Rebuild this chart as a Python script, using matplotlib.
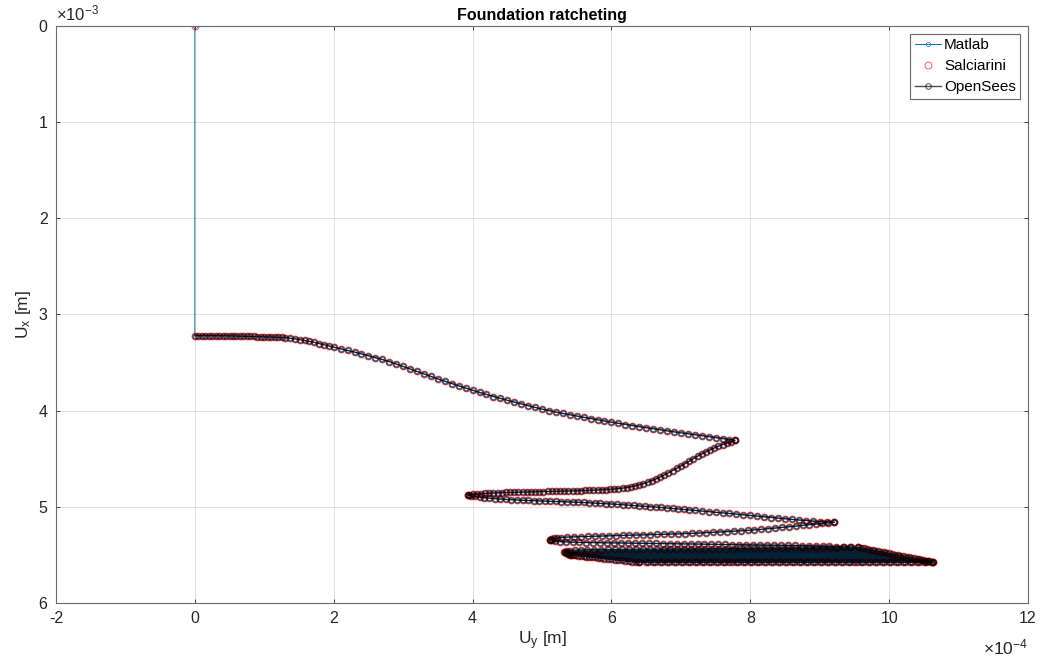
import numpy as np
import matplotlib
matplotlib.use("Agg")
import matplotlib.pyplot as plt
from matplotlib.ticker import MultipleLocator, FuncFormatter

plt.rcParams["font.family"] = ["Liberation Sans", "DejaVu Sans"]
plt.rcParams["axes.unicode_minus"] = False
plt.rcParams["mathtext.fontset"] = "custom"
plt.rcParams["mathtext.rm"] = "Liberation Sans"
plt.rcParams["mathtext.it"] = "Liberation Sans:italic"

UX_SCALE = 1e-4  # horizontal displacements below are in 1e-4 m
UY_SCALE = 1e-3  # vertical displacements below are in 1e-3 m

# initial state (before self weight)
ux_start = [0.0]
uy_start = [0.0]

# first push after gravity loading
ux_push1 = [0.00, 0.05, 0.10, 0.15, 0.20, 0.25, 0.30, 0.35, 0.40, 0.45, 0.50, 0.55, 0.60,
            0.65, 0.70, 0.75, 0.80, 0.85, 0.90, 0.95, 1.00, 1.05, 1.10, 1.15, 1.20, 1.25,
            1.30, 1.37, 1.44, 1.51, 1.58, 1.65, 1.72, 1.79, 1.86, 1.93, 2.00, 2.10, 2.20,
            2.30, 2.40, 2.50, 2.60, 2.70, 2.80, 2.90, 3.00, 3.10, 3.20, 3.30, 3.40, 3.50,
            3.60, 3.70, 3.80, 3.90, 4.00, 4.10, 4.20, 4.30, 4.40, 4.50, 4.60, 4.70, 4.80,
            4.90, 5.00, 5.10, 5.20, 5.30, 5.40, 5.50, 5.60, 5.70, 5.80, 5.90, 6.00, 6.10,
            6.20, 6.30, 6.40, 6.50, 6.60, 6.70, 6.80, 6.90, 7.00, 7.10, 7.20, 7.30, 7.40,
            7.50, 7.60, 7.70, 7.78]
uy_push1 = [3.220, 3.220, 3.220, 3.220, 3.220, 3.221, 3.221, 3.221, 3.222, 3.222, 3.222,
            3.223, 3.224, 3.224, 3.225, 3.226, 3.227, 3.228, 3.229, 3.230, 3.231, 3.233,
            3.234, 3.236, 3.238, 3.239, 3.241, 3.247, 3.253, 3.261, 3.270, 3.280, 3.290,
            3.302, 3.315, 3.327, 3.340, 3.357, 3.374, 3.391, 3.410, 3.428, 3.448, 3.468,
            3.490, 3.515, 3.540, 3.566, 3.592, 3.618, 3.644, 3.670, 3.694, 3.718, 3.742,
            3.765, 3.788, 3.810, 3.832, 3.853, 3.873, 3.892, 3.911, 3.930, 3.948, 3.966,
            3.984, 4.000, 4.015, 4.029, 4.043, 4.056, 4.069, 4.082, 4.095, 4.107, 4.120,
            4.132, 4.144, 4.155, 4.166, 4.177, 4.188, 4.199, 4.210, 4.220, 4.230, 4.240,
            4.250, 4.260, 4.270, 4.280, 4.290, 4.300, 4.308]

# first reversal
ux_back1 = [7.78, 7.72, 7.66, 7.60, 7.54, 7.48, 7.42, 7.36, 7.30, 7.24, 7.18, 7.12, 7.06,
            7.00, 6.94, 6.88, 6.82, 6.76, 6.70, 6.64, 6.58, 6.52, 6.46, 6.40, 6.34, 6.28,
            6.22, 6.16, 6.10, 6.04, 5.98, 5.92, 5.86, 5.80, 5.74, 5.68, 5.62, 5.56, 5.50,
            5.44, 5.38, 5.32, 5.26, 5.20, 5.14, 5.08, 5.02, 4.96, 4.90, 4.84, 4.78, 4.72,
            4.66, 4.60, 4.54, 4.48, 4.42, 4.36, 4.30, 4.24, 4.18, 4.12, 4.06, 4.00, 3.95,
            3.93]
uy_back1 = [4.308, 4.322, 4.337, 4.353, 4.370, 4.388, 4.408, 4.428, 4.450, 4.474, 4.500,
            4.526, 4.551, 4.576, 4.600, 4.624, 4.647, 4.669, 4.690, 4.710, 4.728, 4.745,
            4.760, 4.772, 4.783, 4.792, 4.800, 4.806, 4.811, 4.815, 4.818, 4.821, 4.823,
            4.825, 4.827, 4.829, 4.830, 4.832, 4.833, 4.834, 4.835, 4.836, 4.837, 4.838,
            4.839, 4.840, 4.841, 4.842, 4.843, 4.844, 4.845, 4.846, 4.847, 4.848, 4.849,
            4.851, 4.852, 4.854, 4.856, 4.858, 4.861, 4.864, 4.867, 4.870, 4.873, 4.876]

# second push
ux_push2 = [3.93, 3.98, 4.04, 4.10, 4.17, 4.24, 4.32, 4.40, 4.48, 4.56, 4.64, 4.72, 4.80,
            4.88, 4.96, 5.04, 5.12, 5.20, 5.28, 5.36, 5.44, 5.52, 5.60, 5.68, 5.76, 5.84,
            5.92, 6.00, 6.08, 6.16, 6.24, 6.32, 6.40, 6.48, 6.56, 6.64, 6.72, 6.80, 6.88,
            6.96, 7.04, 7.12, 7.20, 7.30, 7.40, 7.50, 7.60, 7.70, 7.80, 7.90, 8.00, 8.10,
            8.20, 8.30, 8.40, 8.50, 8.60, 8.70, 8.80, 8.90, 9.00, 9.10, 9.21]
uy_push2 = [4.876, 4.884, 4.892, 4.899, 4.905, 4.910, 4.915, 4.919, 4.923, 4.926, 4.929,
            4.932, 4.934, 4.936, 4.938, 4.940, 4.942, 4.944, 4.946, 4.948, 4.950, 4.952,
            4.955, 4.958, 4.961, 4.964, 4.967, 4.970, 4.974, 4.978, 4.982, 4.986, 4.990,
            4.994, 4.998, 5.002, 5.007, 5.012, 5.017, 5.022, 5.027, 5.032, 5.037, 5.043,
            5.049, 5.055, 5.062, 5.069, 5.076, 5.083, 5.090, 5.097, 5.104, 5.111, 5.118,
            5.125, 5.131, 5.137, 5.143, 5.148, 5.153, 5.157, 5.160]

# second reversal
ux_back2 = [9.21, 9.12, 9.03, 8.94, 8.85, 8.76, 8.66, 8.56, 8.46, 8.36, 8.26, 8.16, 8.06,
            7.96, 7.86, 7.76, 7.66, 7.56, 7.46, 7.36, 7.26, 7.16, 7.06, 6.96, 6.86, 6.76,
            6.66, 6.56, 6.46, 6.36, 6.26, 6.16, 6.06, 5.96, 5.86, 5.76, 5.66, 5.56, 5.46,
            5.36, 5.28, 5.22, 5.17, 5.13, 5.11]
uy_back2 = [5.160, 5.166, 5.172, 5.179, 5.186, 5.193, 5.200, 5.207, 5.214, 5.221, 5.228,
            5.234, 5.240, 5.245, 5.250, 5.254, 5.258, 5.262, 5.266, 5.270, 5.273, 5.276,
            5.279, 5.281, 5.283, 5.285, 5.287, 5.289, 5.291, 5.293, 5.295, 5.297, 5.299,
            5.301, 5.303, 5.305, 5.307, 5.309, 5.312, 5.315, 5.319, 5.323, 5.328, 5.334,
            5.340]

# third push
ux_push3 = [5.11, 5.14, 5.19, 5.26, 5.34, 5.44, 5.54, 5.64, 5.74, 5.84, 5.94, 6.04, 6.14,
            6.24, 6.34, 6.44, 6.54, 6.64, 6.74, 6.84, 6.94, 7.04, 7.14, 7.24, 7.34, 7.44,
            7.54, 7.64, 7.74, 7.84, 7.94, 8.04, 8.14, 8.24, 8.34, 8.44, 8.54, 8.64, 8.74,
            8.84, 8.94, 9.04, 9.14, 9.24, 9.34, 9.44, 9.55]
uy_push3 = [5.340, 5.348, 5.355, 5.361, 5.365, 5.368, 5.370, 5.371, 5.372, 5.373, 5.374,
            5.375, 5.376, 5.377, 5.378, 5.379, 5.380, 5.381, 5.382, 5.383, 5.384, 5.385,
            5.386, 5.387, 5.388, 5.389, 5.390, 5.391, 5.392, 5.393, 5.394, 5.395, 5.396,
            5.397, 5.398, 5.399, 5.400, 5.402, 5.404, 5.406, 5.408, 5.410, 5.412, 5.414,
            5.416, 5.418, 5.420]

# third reversal
ux_back3 = [9.55, 9.45, 9.35, 9.25, 9.15, 9.05, 8.95, 8.85, 8.75, 8.65, 8.55, 8.45, 8.35,
            8.25, 8.15, 8.05, 7.95, 7.85, 7.75, 7.65, 7.55, 7.45, 7.35, 7.25, 7.15, 7.05,
            6.95, 6.85, 6.75, 6.65, 6.55, 6.45, 6.35, 6.25, 6.15, 6.05, 5.95, 5.85, 5.75,
            5.65, 5.56, 5.48, 5.41, 5.36, 5.32]
uy_back3 = [5.420, 5.421, 5.422, 5.423, 5.424, 5.425, 5.426, 5.427, 5.428, 5.428, 5.429,
            5.430, 5.430, 5.431, 5.432, 5.432, 5.433, 5.433, 5.434, 5.434, 5.435, 5.435,
            5.436, 5.436, 5.437, 5.437, 5.438, 5.438, 5.439, 5.439, 5.440, 5.440, 5.441,
            5.441, 5.442, 5.442, 5.443, 5.444, 5.445, 5.446, 5.448, 5.451, 5.455, 5.459,
            5.465]

# later cycles: reversal points (right tip, then left tip, per cycle)
ux_tip_right = [9.60, 9.64, 9.68, 9.72, 9.76, 9.80, 9.84, 9.88, 9.92, 9.96, 10.00, 10.04,
                10.08, 10.12, 10.16, 10.20, 10.24, 10.28, 10.32, 10.36, 10.40, 10.43,
                10.46, 10.49, 10.52, 10.54, 10.56, 10.58, 10.60, 10.61]
uy_tip_right = [5.427, 5.433, 5.439, 5.444, 5.450, 5.456, 5.462, 5.467, 5.473, 5.479,
                5.485, 5.490, 5.496, 5.502, 5.508, 5.513, 5.519, 5.525, 5.530, 5.536,
                5.542, 5.546, 5.551, 5.555, 5.559, 5.562, 5.565, 5.568, 5.571, 5.572]
ux_tip_left = [5.33, 5.34, 5.35, 5.36, 5.37, 5.38, 5.39, 5.40, 5.42, 5.45, 5.48, 5.52,
               5.56, 5.60, 5.64, 5.68, 5.72, 5.76, 5.80, 5.85, 5.90, 5.95, 6.00, 6.05,
               6.10, 6.15, 6.20, 6.25, 6.30, 6.35]
uy_tip_left = [5.469, 5.473, 5.478, 5.482, 5.486, 5.490, 5.495, 5.499, 5.501, 5.503,
               5.505, 5.508, 5.511, 5.514, 5.517, 5.520, 5.523, 5.526, 5.530, 5.534,
               5.538, 5.542, 5.546, 5.550, 5.554, 5.558, 5.562, 5.566, 5.570, 5.574]

# last cycle
ux_back_last = [10.63, 10.53, 10.43, 10.33, 10.23, 10.13, 10.03, 9.93, 9.83, 9.73, 9.63,
                9.53, 9.43, 9.33, 9.23, 9.13, 9.03, 8.93, 8.83, 8.73, 8.63, 8.53, 8.43,
                8.33, 8.23, 8.13, 8.03, 7.93, 7.83, 7.73, 7.63, 7.53, 7.43, 7.33, 7.23,
                7.13, 7.03, 6.93, 6.83, 6.73, 6.63, 6.52, 6.40]
uy_back_last = [5.575, 5.575, 5.575, 5.575, 5.575, 5.575, 5.575, 5.575, 5.575, 5.575,
                5.575, 5.576, 5.576, 5.576, 5.576, 5.576, 5.576, 5.576, 5.576, 5.576,
                5.576, 5.576, 5.576, 5.576, 5.576, 5.576, 5.576, 5.576, 5.576, 5.576,
                5.577, 5.577, 5.577, 5.577, 5.577, 5.577, 5.577, 5.577, 5.577, 5.577,
                5.577, 5.577, 5.577]
ux_push_last = [6.40, 6.50, 6.60, 6.70, 6.80, 6.90, 7.00, 7.10, 7.20, 7.30, 7.40, 7.50,
                7.60, 7.70, 7.80, 7.90, 8.00, 8.10, 8.20, 8.30, 8.40, 8.50, 8.60, 8.70,
                8.80, 8.90, 9.00, 9.10, 9.20, 9.30, 9.40, 9.50, 9.60, 9.70, 9.80, 9.90,
                10.00, 10.10, 10.20, 10.30, 10.40, 10.50, 10.63]
uy_push_last = [5.577, 5.578, 5.578, 5.578, 5.578, 5.578, 5.578, 5.578, 5.578, 5.578,
                5.578, 5.578, 5.578, 5.578, 5.578, 5.578, 5.578, 5.578, 5.578, 5.578,
                5.578, 5.578, 5.578, 5.578, 5.578, 5.578, 5.578, 5.578, 5.578, 5.578,
                5.578, 5.578, 5.578, 5.578, 5.578, 5.578, 5.578, 5.578, 5.578, 5.578,
                5.578, 5.578, 5.578]


def build_path():
    """Chain the loading branches into one displacement path (in metres)."""
    cyc_x = np.column_stack([ux_tip_right, ux_tip_left]).ravel()
    cyc_y = np.column_stack([uy_tip_right, uy_tip_left]).ravel()
    ux = np.concatenate([ux_push1, ux_back1, ux_push2, ux_back2, ux_push3, ux_back3,
                         cyc_x, ux_back_last, ux_push_last])
    uy = np.concatenate([uy_push1, uy_back1, uy_push2, uy_back2, uy_push3, uy_back3,
                         cyc_y, uy_back_last, uy_push_last])
    return ux * UX_SCALE, uy * UY_SCALE


ux_os, uy_os = build_path()
ux_ml = np.concatenate([np.array(ux_start) * UX_SCALE, ux_os])
uy_ml = np.concatenate([np.array(uy_start) * UY_SCALE, uy_os])

fig = plt.figure(figsize=(10.42, 6.66), dpi=100)
ax = fig.add_axes([0.0537, 0.0946, 0.9329, 0.8664])

ax.plot(ux_ml, uy_ml, color="#0072BD", lw=0.7, marker="o", ms=3, mfc="none",
        mew=0.5, label="Matlab")
ax.plot(ux_ml, uy_ml, ls="none", marker="o", ms=5, mfc="none", mec="red",
        mew=0.6, alpha=0.75, label="Salciarini")
ax.plot(ux_os, uy_os, color="black", lw=1.0, marker="o", ms=4, mfc="none",
        mew=0.7, alpha=0.7, label="OpenSees")

ax.set_xlim(-2e-4, 12e-4)
ax.set_ylim(6e-3, 0)
ax.xaxis.set_major_locator(MultipleLocator(2e-4))
ax.yaxis.set_major_locator(MultipleLocator(1e-3))
# tick labels in scaled units, exponent written once at the axis end
ax.xaxis.set_major_formatter(FuncFormatter(lambda v, _: f"{round(v / UX_SCALE):d}"))
ax.yaxis.set_major_formatter(FuncFormatter(lambda v, _: f"{round(v / UY_SCALE):d}"))
fig.text(1028 / 1042, 1 - 654 / 666, r"$\times\mathregular{10^{-4}}$", ha="right",
         va="baseline", fontsize=12.5, color="#262626")
fig.text(56 / 1042, 1 - 20 / 666, r"$\times\mathregular{10^{-3}}$", ha="left",
         va="baseline", fontsize=12, color="#262626")

ax.grid(True, color="#dcdcdc", lw=0.6)
ax.set_axisbelow(True)
ax.tick_params(direction="in", top=True, right=True, length=3, width=0.6,
               labelsize=11.5, colors="#262626", pad=6)
for sp in ax.spines.values():
    sp.set_color("#6a6a6a")
    sp.set_linewidth(0.8)

ax.set_title("Foundation ratcheting", fontsize=11.5, fontweight="bold", pad=4)
ax.set_xlabel("U$_\\mathregular{y}$ [m]", fontsize=12.5, color="#262626", labelpad=2)
ax.set_ylabel("U$_\\mathregular{x}$ [m]", fontsize=12.5, color="#262626", labelpad=4)

leg = ax.legend(loc="upper right", fontsize=11, fancybox=False, framealpha=1,
                edgecolor="#6a6a6a", handlelength=1.7, handletextpad=0.2,
                labelspacing=0.45, borderpad=0.3, borderaxespad=0.5)
leg.get_frame().set_linewidth(0.8)

fig.savefig("out.png", dpi=100)
